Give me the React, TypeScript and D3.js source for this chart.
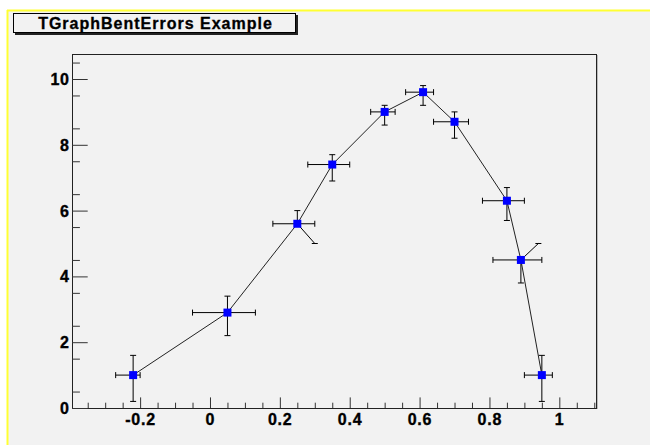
import React from "react";
import * as d3 from "d3";

const xs = [-0.22, 0.05, 0.25, 0.35, 0.5, 0.61, 0.7, 0.85, 0.89, 0.95];
const ys = [1, 2.9, 5.6, 7.4, 9, 9.6, 8.7, 6.3, 4.5, 1];
const exl = [0.05, 0.1, 0.07, 0.07, 0.04, 0.05, 0.06, 0.07, 0.08, 0.05];
const eyl = [0.8, 0.7, 0.6, 0.5, 0.4, 0.4, 0.5, 0.6, 0.7, 0.8];
const exh = [0.02, 0.08, 0.05, 0.05, 0.03, 0.03, 0.04, 0.05, 0.06, 0.03];
const eyh = [0.6, 0.5, 0.4, 0.3, 0.2, 0.2, 0.3, 0.4, 0.5, 0.6];
const exld = [0, 0, 0, 0, 0, 0, 0, 0, 0, 0];
const eyld = [0, 0, 0.05, 0, 0, 0, 0, 0, 0, 0];
const exhd = [0, 0, 0, 0, 0, 0, 0, 0, 0, 0];
const eyhd = [0, 0, 0, 0, 0, 0, 0, 0, 0.05, 0];

const xMajor = [-0.2, 0, 0.2, 0.4, 0.6, 0.8, 1];
const xMajorLabels = ["-0.2", "0", "0.2", "0.4", "0.6", "0.8", "1"];
const yMajor = [0, 2, 4, 6, 8, 10];
const yMajorLabels = ["0", "2", "4", "6", "8", "10"];
const title = "TGraphBentErrors Example";

const W = 650;
const H = 445;
const FL = 72, FR = 596, FT = 54, FB = 408;

export default function App() {
  const x = d3.scaleLinear().domain([-0.395, 1.105]).range([FL, FR]);
  const y = d3.scaleLinear().domain([0, 10.76]).range([FB, FT]);

  const xMinor: number[] = [];
  for (let v = -0.35; v <= 1.1001; v += 0.05) {
    const r = Math.round(v * 100) / 100;
    if (Math.abs(Math.round(r * 5) - r * 5) > 1e-6) xMinor.push(r);
  }
  const yMinor: number[] = [];
  for (let v = 0.5; v <= 10.76; v += 1) yMinor.push(v);

  const line = d3
    .line<number>()
    .x((_, i) => x(xs[i]))
    .y((_, i) => y(ys[i]));

  const font = "'Liberation Sans', Arial, Helvetica, sans-serif";
  const cap = 3;
  const ls = 0.8;

  return (
    <svg
      width={W}
      height={H}
      style={{ position: "absolute", left: 0, top: 0, display: "block", background: "#fff" }}
    >
      <rect x={8} y={11} width={W - 8} height={H - 11} fill="#f2f2f2" />
      <line x1={7} y1={10.5} x2={W} y2={10.5} stroke="#ffff33" strokeWidth={2} />
      <line x1={7.5} y1={10} x2={7.5} y2={H} stroke="#ffff33" strokeWidth={2} />

      {/* frame */}
      <line x1={FR + 1.5} y1={FT + 1} x2={FR + 1.5} y2={FB + 1} stroke="#bbb" strokeWidth={1} />
      <rect x={FL + 0.5} y={FT + 0.5} width={FR - FL} height={FB - FT} fill="#f2f2f2" stroke="#222" strokeWidth={1} />

      {/* x ticks */}
      {xMajor.map((v, i) => (
        <g key={"xm" + i}>
          <line x1={x(v) + 0.5} x2={x(v) + 0.5} y1={FB} y2={FB - 10.6} stroke="#333" />
          <text
            x={x(v) + ls / 2}
            y={424.5}
            textAnchor="middle"
            fontFamily={font}
            fontWeight="bold"
            fontSize={16}
            letterSpacing={ls}
            stroke="#000"
            strokeWidth={0.35}
            fill="#000"
          >
            {xMajorLabels[i]}
          </text>
        </g>
      ))}
      {xMinor.map((v, i) => (
        <line key={"xn" + i} x1={x(v) + 0.5} x2={x(v) + 0.5} y1={FB} y2={FB - 5.3} stroke="#333" />
      ))}
      {/* y ticks */}
      {yMajor.map((v, i) => (
        <g key={"ym" + i}>
          <line x1={FL} x2={FL + 15.7} y1={y(v) + 0.5} y2={y(v) + 0.5} stroke="#333" />
          <text
            x={69 + ls}
            y={y(v) + 6}
            textAnchor="end"
            fontFamily={font}
            fontWeight="bold"
            fontSize={16}
            letterSpacing={ls}
            stroke="#000"
            strokeWidth={0.35}
            fill="#000"
          >
            {yMajorLabels[i]}
          </text>
        </g>
      ))}
      {yMinor.map((v, i) => (
        <line key={"yn" + i} x1={FL} x2={FL + 7.9} y1={y(v) + 0.5} y2={y(v) + 0.5} stroke="#333" />
      ))}

      {/* connecting line */}
      <path d={line(xs) || ""} fill="none" stroke="#222" strokeWidth={1} />

      {/* error bars */}
      {xs.map((xv, i) => {
        const px = x(xv);
        const py = y(ys[i]);
        const xlEnd = [x(xv - exl[i]), y(ys[i] + exld[i])];
        const xhEnd = [x(xv + exh[i]), y(ys[i] + exhd[i])];
        const ylEnd = [x(xv + eyld[i]), y(ys[i] - eyl[i])];
        const yhEnd = [x(xv + eyhd[i]), y(ys[i] + eyh[i])];
        return (
          <g key={"e" + i} stroke="#000" strokeWidth={1} fill="none">
            <line x1={px} y1={py} x2={xlEnd[0]} y2={xlEnd[1]} />
            <line x1={xlEnd[0]} y1={xlEnd[1] - cap} x2={xlEnd[0]} y2={xlEnd[1] + cap} />
            <line x1={px} y1={py} x2={xhEnd[0]} y2={xhEnd[1]} />
            <line x1={xhEnd[0]} y1={xhEnd[1] - cap} x2={xhEnd[0]} y2={xhEnd[1] + cap} />
            <line x1={px} y1={py} x2={ylEnd[0]} y2={ylEnd[1]} />
            <line x1={ylEnd[0] - cap} y1={ylEnd[1]} x2={ylEnd[0] + cap} y2={ylEnd[1]} />
            <line x1={px} y1={py} x2={yhEnd[0]} y2={yhEnd[1]} />
            <line x1={yhEnd[0] - cap} y1={yhEnd[1]} x2={yhEnd[0] + cap} y2={yhEnd[1]} />
          </g>
        );
      })}

      {/* markers */}
      {xs.map((xv, i) => (
        <rect
          key={"m" + i}
          x={x(xv) - 4}
          y={y(ys[i]) - 4}
          width={8}
          height={8}
          fill="#0000ff"
        />
      ))}

      {/* title box */}
      <rect x={15} y={15} width={283} height={20} fill="#222" />
      <rect x={13.5} y={13.5} width={282} height={19} fill="#f2f2f2" stroke="#000" strokeWidth={1} />
      <text
        x={155 + 0.5}
        y={28.5}
        textAnchor="middle"
        fontFamily={font}
        fontWeight="bold"
        fontSize={16}
        letterSpacing={1}
        stroke="#000"
        strokeWidth={0.3}
        fill="#000"
      >
        {title}
      </text>
    </svg>
  );
}
